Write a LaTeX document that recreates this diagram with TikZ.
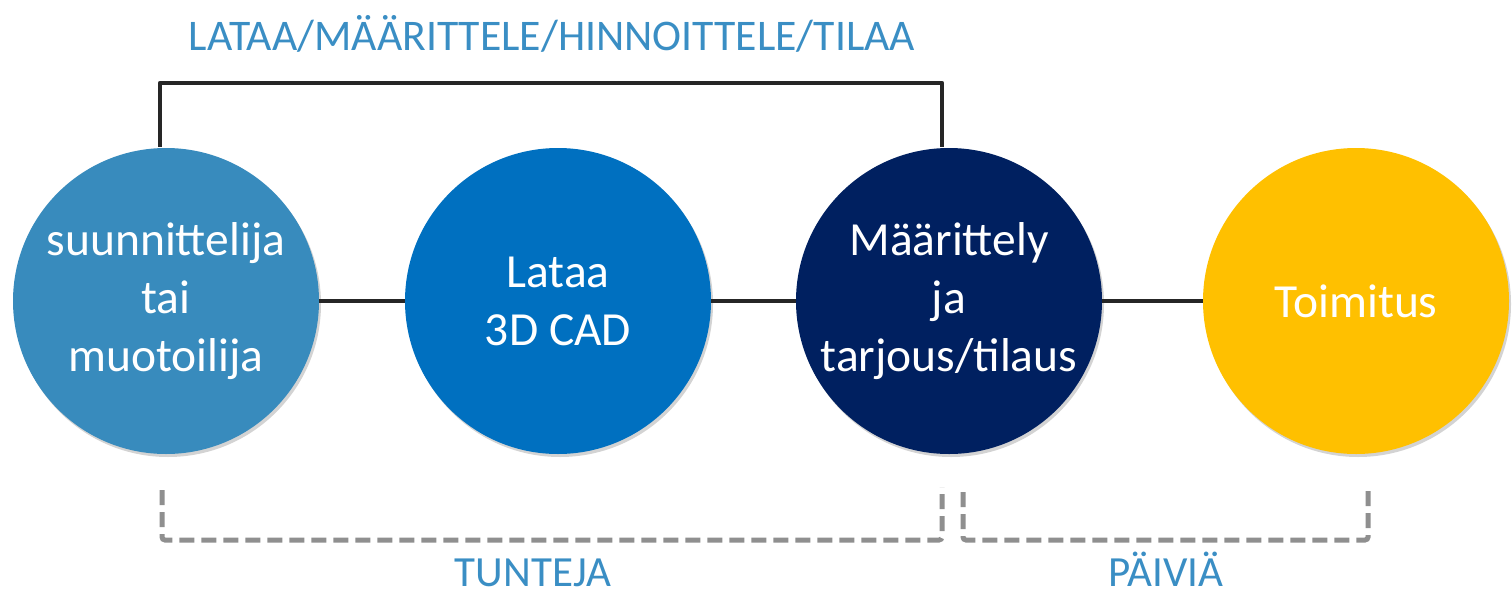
\documentclass[tikz,border=0pt]{standalone}
\usepackage{fontspec}
\setmainfont{Carlito}
\usetikzlibrary{shadows}
\definecolor{cA}{HTML}{388BBD}
\definecolor{cB}{HTML}{0070C0}
\definecolor{cC}{HTML}{002060}
\definecolor{cD}{HTML}{FFC000}
\definecolor{lbl}{HTML}{3A8EC4}
\definecolor{lineK}{HTML}{262626}
\definecolor{dashG}{HTML}{8F8F8F}
\tikzset{
  stage/.style={circle, minimum size=306pt, inner sep=0pt, text=white, align=center,
    font=\fontsize{47.5}{58}\selectfont,
    drop shadow={opacity=0.35, shadow xshift=2pt, shadow yshift=-3pt}},
  link/.style={draw=lineK, line width=4.8pt},
  span/.style={draw=dashG, line width=5pt, dash pattern=on 15pt off 7pt, rounded corners=3pt},
  caption/.style={text=lbl, font=\fontsize{43}{50}\selectfont, inner sep=0pt, anchor=base}
}
\begin{document}
\begin{tikzpicture}[x=1pt,y=-1pt]
\useasboundingbox (0,0) rectangle (1512,597);
% coordinates
\coordinate (topl) at (160,83);
\coordinate (topr) at (942,83);
\coordinate (b1l) at (162,490);
\coordinate (b1c) at (942,540);
\coordinate (b1r) at (942,487);
\coordinate (b2l) at (963,492);
\coordinate (b2c) at (1368,540);
\coordinate (b2r) at (1368,490);
% circles
\node[stage, fill=cA] (c1) at (166,301) {suunnittelija\\tai\\muotoilija};
\node[stage, fill=cB] (c2) at (558,301) {Lataa\\3D CAD};
\node[stage, fill=cC] (c3) at (949,301) {Määrittely\\ja\\tarjous/tilaus};
\node[stage, fill=cD] (c4) at (1356,301) {Toimitus};
% connectors
\draw[link] (c1.east) -- (c2.west);
\draw[link] (c2.east) -- (c3.west);
\draw[link] (c3.east) -- (c4.west);
\draw[link, line join=round] ([xshift=-6pt,yshift=1pt]c1.north) -- (topl) -- (topr) -- ([xshift=-7pt,yshift=1pt]c3.north);
% brackets
\draw[span] (b1l) |- (b1c) -- (b1r);
\draw[span] (b2l) |- (b2c) -- (b2r);
% labels
\node[caption, font=\fontsize{43.7}{50}\selectfont] (t1) at (552,50) {LATAA/MÄÄRITTELE/HINNOITTELE/TILAA};
\node[caption] (t2) at (533,586) {TUNTEJA};
\node[caption] (t3) at (1166,586) {PÄIVIÄ};
\end{tikzpicture}
\end{document}
